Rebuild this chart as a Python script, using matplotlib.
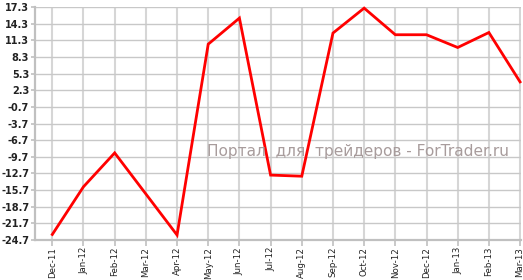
import matplotlib
matplotlib.use("Agg")
import matplotlib.pyplot as plt
import numpy as np

months = ["Dec-11", "Jan-12", "Feb-12", "Mar-12", "Apr-12", "May-12", "Jun-12",
          "Jul-12", "Aug-12", "Sep-12", "Oct-12", "Nov-12", "Dec-12", "Jan-13",
          "Feb-13", "Mar-13"]
values = [-23.7, -15.1, -9.0, -16.4, -23.8, 10.6, 15.3, -13.0, -13.2, 12.6,
          17.1, 12.3, 12.3, 10.0, 12.7, 3.8]
yticks = [17.3, 14.3, 11.3, 8.3, 5.3, 2.3, -0.7, -3.7, -6.7, -9.7, -12.7,
          -15.7, -18.7, -21.7, -24.7]
watermark = "Портал  для  трейдеров - ForTrader.ru"

W, H = 523, 280
fig = plt.figure(figsize=(W / 100, H / 100), dpi=100)
ax = fig.add_axes([35 / W, (H - 240) / H, (521 - 35) / W, (240 - 7) / H])

x = np.arange(len(months))
ax.set_xlim(-0.555, len(months) - 1 + 0.03)
ax.set_ylim(-24.7, 17.3)

ax.set_yticks(yticks)
ax.set_yticklabels([f"{v:.1f}" for v in yticks], fontsize=7.0, color="#222222",
                   fontweight="bold")
ax.set_xticks(x)
ax.set_xticklabels(months, rotation=90, fontsize=6.2, color="#222222")

ax.grid(axis="y", color="#c8c8c8", linewidth=1.0)
ax.grid(axis="x", color="#d6d6d6", linewidth=1.5)
ax.set_axisbelow(True)

for s in ["top", "right"]:
    ax.spines[s].set_visible(False)
for s in ["left", "bottom"]:
    ax.spines[s].set_color("#c0c0c0")
    ax.spines[s].set_linewidth(1.6)

ax.tick_params(axis="x", length=4, width=1.2, color="#c0c0c0", pad=1)
ax.tick_params(axis="y", length=3, width=1.2, color="#c0c0c0", pad=1.2)

ax.plot(x, values, color="#ff0000", linewidth=2.0, solid_joinstyle="miter", zorder=3,
        clip_on=False)

fig.text(207 / W, 1 - 156 / H, watermark, fontsize=11.1, color="#a89c9c",
         ha="left", va="baseline", zorder=5)

fig.savefig("out.png", dpi=100)
